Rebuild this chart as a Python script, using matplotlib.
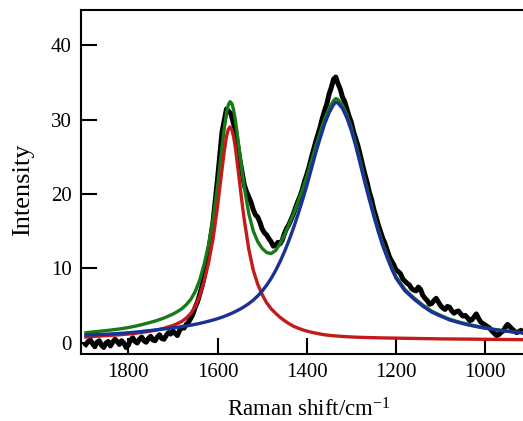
import matplotlib
matplotlib.use("Agg")
import matplotlib.pyplot as plt

# ---------------- data ----------------
raman_shift = [1895, 1890, 1885, 1880, 1875, 1870, 1865, 1860, 1855, 1850,
               1845, 1840, 1835, 1830, 1825, 1820, 1815, 1810, 1805, 1800,
               1795, 1790, 1785, 1780, 1775, 1770, 1765, 1760, 1755, 1750,
               1745, 1740, 1735, 1730, 1725, 1720, 1715, 1710, 1705, 1700,
               1695, 1690, 1685, 1680, 1675, 1670, 1665, 1660, 1655, 1650,
               1645, 1640, 1635, 1630,
               1620, 1610, 1600, 1590, 1580, 1570, 1560, 1550, 1540,
               1535, 1530, 1525, 1520, 1515, 1510, 1505, 1500, 1495, 1490,
               1485, 1480, 1475, 1470, 1465, 1460, 1455, 1450, 1445, 1440,
               1435, 1430, 1425, 1420, 1415, 1410, 1405, 1400, 1395, 1390,
               1385, 1380, 1375, 1370, 1365, 1360, 1355, 1350, 1345, 1340,
               1335, 1330, 1325, 1320, 1315, 1310, 1305, 1300, 1295, 1290,
               1285, 1280, 1275, 1270, 1265, 1260, 1255,
               1250, 1245, 1240, 1235, 1230, 1225, 1220, 1215, 1210, 1205,
               1200, 1195, 1190, 1185, 1180, 1175, 1170, 1165, 1160, 1155,
               1150, 1145, 1140, 1135, 1130, 1125, 1120, 1115, 1110, 1105,
               1100, 1095, 1090, 1085, 1080, 1075, 1070, 1065, 1060, 1055,
               1050, 1045, 1040, 1035, 1030, 1025, 1020, 1015, 1010, 1005,
               1000, 995, 990, 985, 980, 975, 970, 965, 960, 955,
               950, 945, 940, 935, 930, 925, 920, 915, 910, 905]
measured = [-0.2, 0.2, 0.4, -0.1, -0.5, 0.1, 0.3, -0.3, -0.6, 0.0,
            0.2, -0.4, 0.1, 0.5, 0.2, -0.2, 0.3, 0.0, -0.6, -0.3,
            0.4, 0.7, 0.2, 0.0, 0.5, 0.8, 0.3, 0.1, 0.6, 0.9,
            0.4, 0.3, 0.8, 1.1, 0.6, 0.5, 1.0, 1.4, 1.2, 1.6,
            1.3, 1.0, 1.7, 2.1, 2.0, 2.5, 2.8, 3.3, 3.9, 4.8,
            5.5, 6.5, 7.6, 8.9,
            12.3, 16.3, 22.0, 28.3, 31.4, 30.8, 28.5, 24.6, 21.2,
            20.3, 19.6, 18.9, 17.9, 17.2, 16.9, 16.2, 15.3, 14.8, 14.5,
            14.0, 13.6, 13.0, 13.1, 13.5, 13.3, 13.8, 14.7, 15.4, 15.9,
            16.6, 17.3, 18.2, 19.0, 19.7, 20.6, 21.7, 22.6, 23.6, 24.8,
            25.9, 27.0, 28.0, 29.0, 30.2, 31.2, 32.1, 33.4, 34.3, 35.4,
            35.7, 34.8, 34.1, 33.0, 32.4, 31.4, 30.4, 29.6, 28.3, 27.4,
            26.4, 25.2, 23.9, 22.7, 21.6, 20.3, 19.3,
            18.0, 17.0, 15.9, 15.0, 14.1, 13.4, 12.5, 11.6, 11.0, 10.5,
            9.8, 9.6, 9.3, 8.6, 8.3, 8.0, 7.8, 7.3, 7.1, 7.0,
            7.5, 7.2, 6.4, 6.0, 5.7, 5.2, 5.3, 5.7, 6.0, 5.5,
            5.0, 4.7, 4.5, 4.9, 4.8, 4.3, 4.0, 4.2, 4.3, 3.9,
            3.6, 3.7, 3.4, 3.0, 3.1, 3.5, 3.9, 3.3, 2.8, 2.6,
            2.4, 2.2, 2.0, 1.6, 1.3, 1.0, 1.1, 1.4, 1.6, 2.1,
            2.5, 2.2, 1.9, 1.6, 1.4, 1.5, 1.7, 1.4, 1.6, 1.5]

fit_x = [1895, 1880, 1860, 1840, 1820, 1800, 1780, 1760, 1740, 1720,
         1700, 1690, 1680, 1670, 1660, 1650, 1640, 1630, 1620, 1610,
         1600, 1595, 1590, 1585, 1580, 1576, 1572, 1568, 1564, 1560,
         1555, 1550, 1545, 1540, 1530, 1520, 1510, 1500, 1490, 1480,
         1470, 1460, 1450, 1440, 1430, 1420, 1410, 1400, 1390, 1380,
         1370, 1360, 1350, 1340, 1335, 1330, 1320, 1310, 1300, 1290,
         1280, 1270, 1260, 1250, 1240, 1230, 1220, 1210, 1200, 1180,
         1160, 1140, 1120, 1100, 1080, 1060, 1040, 1020, 1000, 980,
         960, 940, 900]
g_band = [0.8, 0.88, 0.95, 1.02, 1.1, 1.2, 1.33, 1.5, 1.7, 1.97,
          2.35, 2.6, 2.9, 3.35, 3.95, 4.9, 6.3, 8.3, 10.8, 14.0,
          18.3, 20.8, 23.3, 25.7, 27.7, 28.65, 29.0, 28.65, 27.7, 26.2,
          23.8, 21.3, 18.8, 16.5, 12.6, 9.8, 7.9, 6.5, 5.4, 4.6,
          4.0, 3.45, 3.0, 2.6, 2.25, 2.0, 1.78, 1.6, 1.45, 1.32,
          1.2, 1.1, 1.03, 0.97, 0.95, 0.92, 0.88, 0.84, 0.81, 0.78,
          0.76, 0.74, 0.72, 0.71, 0.69, 0.68, 0.67, 0.66, 0.65, 0.63,
          0.61, 0.59, 0.57, 0.55, 0.54, 0.53, 0.52, 0.51, 0.49, 0.48,
          0.47, 0.46, 0.44]
d_band = [1.06, 1.1, 1.15, 1.21, 1.28, 1.37, 1.48, 1.61, 1.74, 1.88,
          2.03, 2.11, 2.2, 2.29, 2.39, 2.5, 2.63, 2.77, 2.92, 3.08,
          3.26, 3.36, 3.46, 3.57, 3.69, 3.79, 3.89, 3.99, 4.1, 4.22,
          4.37, 4.53, 4.7, 4.88, 5.28, 5.75, 6.31, 6.97, 7.75, 8.65,
          9.7, 10.9, 12.25, 13.75, 15.4, 17.2, 19.1, 21.1, 23.3, 25.5,
          27.5, 29.4, 30.9, 32.0, 32.3, 32.2, 31.5, 30.2, 28.5, 26.4,
          24.0, 21.6, 19.3, 17.1, 15.0, 13.1, 11.5, 10.0, 8.7, 7.0,
          5.9, 4.95, 4.15, 3.6, 3.1, 2.75, 2.45, 2.2, 1.98, 1.8,
          1.63, 1.5, 1.28]
total_fit = [1.36, 1.48, 1.6, 1.73, 1.88, 2.07, 2.31, 2.61, 2.94, 3.35,
             3.88, 4.21, 4.6, 5.14, 5.84, 6.9, 8.43, 10.57, 13.22, 16.58,
             21.06, 23.66, 26.26, 28.77, 30.89, 31.94, 32.39, 32.14, 31.3, 29.92,
             27.67, 25.33, 23.0, 20.88, 17.38, 15.05, 13.6, 12.7, 12.15, 12.0,
             12.4, 13.3, 14.5, 15.9, 17.3, 18.9, 20.5, 22.3, 24.3, 26.37,
             28.25, 30.05, 31.48, 32.52, 32.8, 32.67, 31.93, 30.59, 28.86, 26.73,
             24.31, 21.89, 19.57, 17.36, 15.24, 13.33, 11.72, 10.21, 8.9, 7.18,
             6.06, 5.09, 4.27, 3.7, 3.19, 2.83, 2.52, 2.26, 2.02, 1.83,
             1.65, 1.51, 1.29]

x_ticks = [1800, 1600, 1400, 1200, 1000]
y_ticks = [0, 10, 20, 30, 40]

# ---------------- style ----------------
plt.rcParams['font.family'] = ['Liberation Serif', 'DejaVu Serif']
plt.rcParams['mathtext.default'] = 'regular'

fig = plt.figure(figsize=(5.23, 4.21), dpi=100)
ax = fig.add_axes([81 / 523, 1 - 354 / 421, 456 / 523, 344 / 421])

ax.plot(raman_shift, measured, color='black', lw=3.6, solid_joinstyle='round', zorder=2)
ax.plot(fit_x, total_fit, color='#177a17', lw=2.4, zorder=3)
ax.plot(fit_x, g_band, color='#c41a1a', lw=2.4, zorder=4)
ax.plot(fit_x, d_band, color='#1a3296', lw=2.4, zorder=5)

ax.set_xlim(1906, 884)
ax.set_ylim(-1.48, 44.7)
ax.set_xticks(x_ticks)
ax.set_yticks(y_ticks)

for side in ['left', 'bottom', 'top']:
    ax.spines[side].set_linewidth(1.5)
ax.spines['right'].set_visible(False)

ax.tick_params(direction='in', length=11.5, width=1.5, labelsize=15,
               top=False, right=False)
ax.tick_params(axis='x', pad=6.5)
ax.tick_params(axis='y', pad=6.5)

ax.set_xlabel('Raman shift/cm$^{-1}$', fontsize=16.5)
ax.set_ylabel('Intensity', fontsize=19)
ax.xaxis.set_label_coords(0.5, -0.128)
ax.yaxis.set_label_coords(-0.103, 0.478)

fig.savefig('out.png', dpi=100)
